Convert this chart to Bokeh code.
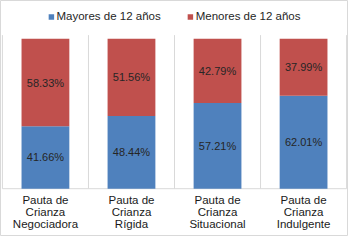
from bokeh.plotting import figure
from bokeh.models import ColumnDataSource, Legend, LegendItem
from bokeh.core.properties import value
from bokeh.embed import file_html
from bokeh.resources import INLINE

categories = ["Pauta de\nCrianza\nNegociadora", "Pauta de\nCrianza\nRígida",
              "Pauta de\nCrianza\nSituacional", "Pauta de\nCrianza\nIndulgente"]
mayores = [41.66, 48.44, 57.21, 62.01]
menores = [58.33, 51.56, 42.79, 37.99]
series_names = ["Mayores de 12 años", "Menores de 12 años"]

BLUE = "#4F81BD"
RED = "#C0504D"
GRID = "#D9D9D9"
FONT = "Liberation Sans"

n = len(categories)
xs = [i + 0.5 for i in range(n)]
src = ColumnDataSource(dict(
    x=xs,
    may_top=mayores,
    men_bottom=mayores,
    men_top=[a + b for a, b in zip(mayores, menores)],
    may_lbl=[f"{v:.2f}%" for v in mayores],
    men_lbl=[f"{v:.2f}%" for v in menores],
    may_y=[v / 2 for v in mayores],
    men_y=[a + b / 2 for a, b in zip(mayores, menores)],
    cat=categories,
    cat_y=[-15.6] * n,
))

p = figure(width=348, height=236, output_backend="svg", toolbar_location=None,
           x_range=(-2 / 90, n + 2 / 90), y_range=(-31.9, 125.6),
           min_border=0)
p.axis.visible = False
p.grid.visible = False
p.outline_line_color = GRID
p.background_fill_color = "white"

# separators and axis line
edges = list(range(n + 1))
p.segment(x0=edges, y0=[0] * len(edges), x1=edges, y1=[102.5] * len(edges),
          line_color=GRID, line_width=1)
p.segment(x0=[0], y0=[0], x1=[n], y1=[0], line_color=GRID, line_width=1)

w = 50 / 90
r1 = p.vbar(x="x", bottom=0, top="may_top", width=w, source=src,
            fill_color=BLUE, line_color=None)
r2 = p.vbar(x="x", bottom="men_bottom", top="men_top", width=w, source=src,
            fill_color=RED, line_color=None)

p.text(x="x", y="may_y", text="may_lbl", source=src, text_align="center",
       text_baseline="middle", text_font=value(FONT), text_font_size="11px",
       text_color="#262626")
p.text(x="x", y="men_y", text="men_lbl", source=src, text_align="center",
       text_baseline="middle", text_font=value(FONT), text_font_size="11px",
       text_color="#262626")
p.text(x="x", y="cat_y", text="cat", source=src, text_align="center",
       text_baseline="middle", text_font=value(FONT), text_font_size="11.5px",
       text_color="#1a1a1a", text_line_height=1.0)

legend = Legend(items=[LegendItem(label=series_names[0], renderers=[r1]),
                       LegendItem(label=series_names[1], renderers=[r2])],
                orientation="horizontal", location="top_center",
                margin=10, padding=0, spacing=26, label_standoff=2,
                glyph_width=7, glyph_height=7,
                label_text_font=FONT, label_text_font_size="11.5px",
                label_text_color="#262626",
                background_fill_alpha=0, border_line_color=None)
p.add_layout(legend)

open("out.html", "w").write(file_html(p, INLINE))
